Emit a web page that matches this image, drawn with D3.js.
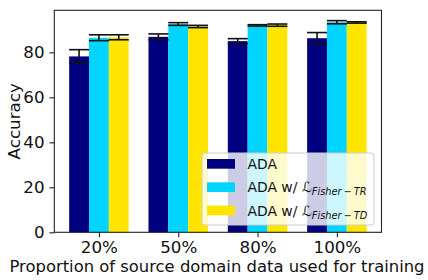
<!DOCTYPE html>
<html>
<head>
<meta charset="utf-8">
<script src="https://cdn.jsdelivr.net/npm/d3@7"></script>
<style>
  body { margin: 0; background: #fff; }
  svg { font-family: "DejaVu Sans", sans-serif; }
</style>
</head>
<body>
<svg id="chart" width="428" height="280"></svg>
<script>
// data
var categories = ["20%", "50%", "80%", "100%"];
var seriesNames = ["ADA", "TR", "TD"];
var adaMean = [78.2, 86.9, 85.0, 86.3];
var adaErr  = [3.0, 1.3, 1.1, 2.5];
var trMean  = [86.5, 92.6, 92.0, 93.4];
var trErr   = [1.3, 0.6, 0.3, 0.7];
var tdMean  = [86.7, 91.5, 92.1, 93.3];
var tdErr   = [1.1, 0.5, 0.5, 0.3];
var yTicks = [0, 20, 40, 60, 80];

var COLORS = ["#000080", "#00d4ff", "#ffe500"];
var BAR_W = 0.25;
var FONT = "16.7px";

var svg = d3.select("#chart");

var LEFT = 54.3, RIGHT = 381.5, TOP = 10.3, BOTTOM = 232.3;

var x = d3.scaleLinear().domain([-0.5625, 3.5625]).range([LEFT, RIGHT]);
var y = d3.scaleLinear().domain([0, 98.7]).range([BOTTOM, TOP]);

var series = [
    {name: "ADA", mean: adaMean, err: adaErr},
    {name: "TR", mean: trMean, err: trErr},
    {name: "TD", mean: tdMean, err: tdErr}
];

// bars
series.forEach(function(s, si){
    var offset = (si - 1) * BAR_W;
    svg.append("g")
        .selectAll("rect")
        .data(s.mean)
        .enter()
        .append("rect")
        .attr("x", function(d,i){ return x(i + offset - BAR_W/2); })
        .attr("width", function(){ return x(BAR_W) - x(0); })
        .attr("y", function(d){ return y(d); })
        .attr("height", function(d){ return y(0) - y(d); })
        .attr("fill", COLORS[si]);
});

// error bars
var CAP = 10;
series.forEach(function(s, si){
    var offset = (si - 1) * BAR_W;
    var g = svg.append("g").attr("stroke", "#111").attr("stroke-width", 1.6);
    s.mean.forEach(function(m, i){
        var cx = x(i + offset);
        var lo = y(m - s.err[i]), hi = y(m + s.err[i]);
        g.append("line").attr("x1", cx).attr("x2", cx).attr("y1", lo).attr("y2", hi);
        g.append("line").attr("x1", cx - CAP).attr("x2", cx + CAP).attr("y1", lo).attr("y2", lo);
        g.append("line").attr("x1", cx - CAP).attr("x2", cx + CAP).attr("y1", hi).attr("y2", hi);
    });
});

// axes
var yAxis = d3.axisLeft(y).tickValues(yTicks).tickSize(4.9).tickPadding(4.9);
var xAxis = d3.axisBottom(x).tickValues(d3.range(categories.length))
    .tickFormat(function(d){ return categories[d]; }).tickSize(4.9).tickPadding(4.2);

var gy = svg.append("g").attr("transform", "translate(" + LEFT + ",0)").call(yAxis);
var gx = svg.append("g").attr("transform", "translate(0," + BOTTOM + ")").call(xAxis);
[gx, gy].forEach(function(g){
    g.select(".domain").remove();
    g.selectAll(".tick line").attr("stroke", "#222").attr("stroke-width", 1.1);
    g.selectAll(".tick text").attr("fill", "#111").style("font-size", FONT)
        .style("font-family", "DejaVu Sans");
});

// frame
svg.append("rect")
    .attr("x", LEFT).attr("y", TOP)
    .attr("width", RIGHT - LEFT).attr("height", BOTTOM - TOP)
    .attr("fill", "none").attr("stroke", "#222").attr("stroke-width", 1.1);

// axis labels
svg.append("text")
    .attr("x", 217).attr("y", 271.5)
    .attr("text-anchor", "middle")
    .style("font-size", "16.4px").attr("fill", "#111")
    .text("Proportion of source domain data used for training");

svg.append("text")
    .attr("transform", "translate(19.5," + ((TOP + BOTTOM) / 2) + ") rotate(-90)")
    .attr("text-anchor", "middle")
    .style("font-size", FONT).attr("fill", "#111")
    .text("Accuracy");

// legend
var legend = svg.append("g").attr("transform", "translate(202,153)");
legend.append("rect")
    .attr("x", 0).attr("y", 0).attr("width", 172).attr("height", 72)
    .attr("rx", 3)
    .attr("fill", "#fff").attr("fill-opacity", 0.8)
    .attr("stroke", "#ccc").attr("stroke-width", 1);

var legendSubs = [null, "Fisher\u2009\u2212\u2009TR", "Fisher\u2009\u2212\u2009TD"];
series.forEach(function(s, si){
    var cy = 10.8 + si * 23.3;
    legend.append("rect")
        .attr("x", 5).attr("y", cy - 4.8).attr("width", 28).attr("height", 9.7)
        .attr("fill", COLORS[si]);
    var t = legend.append("text")
        .attr("x", 45.5).attr("y", cy + 5.3)
        .style("font-size", "13.9px").attr("fill", "#111");
    if (legendSubs[si] == null){
        t.text("ADA");
    } else {
        t.append("tspan").text("ADA w/ ");
        t.append("tspan").text("\u2112").style("font-style", "italic");
        t.append("tspan").attr("dy", 3).style("font-size", "9.8px")
            .style("font-style", "italic").text(legendSubs[si]);
    }
});
</script>
</body>
</html>
